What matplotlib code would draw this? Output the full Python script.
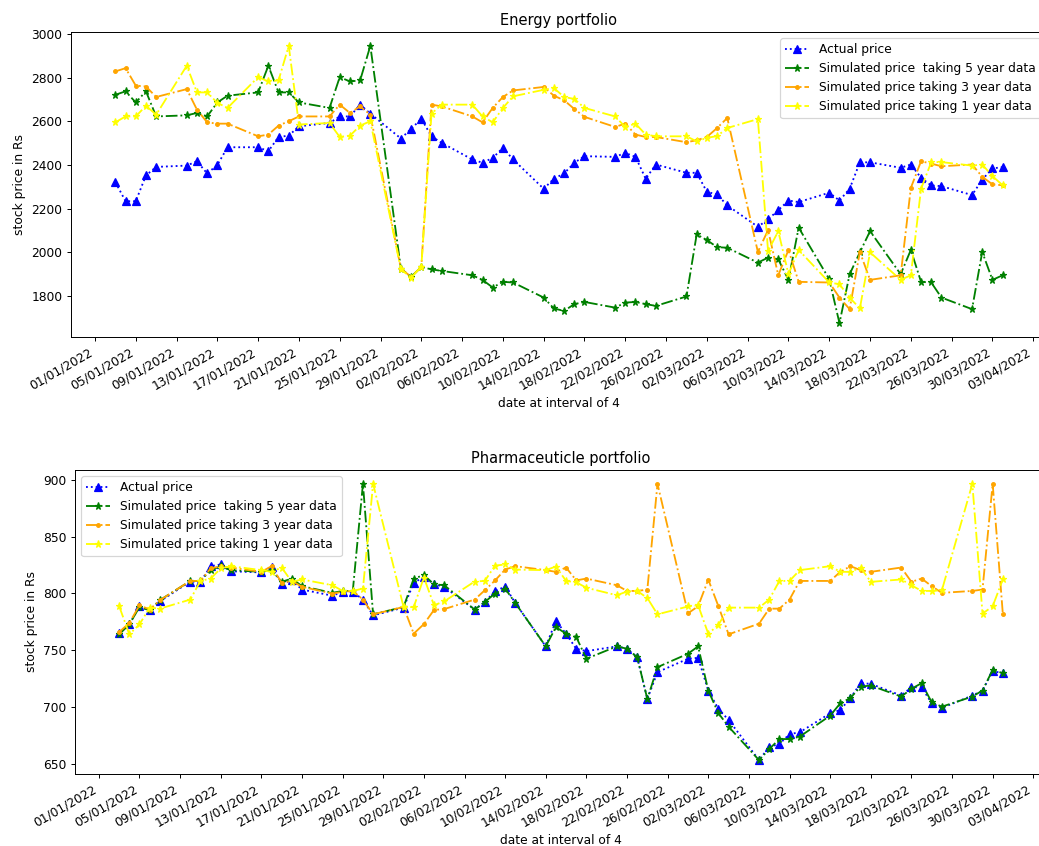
import numpy as np
import pandas as pd
import matplotlib
matplotlib.use('Agg')
import matplotlib.pyplot as plt
import matplotlib.dates as mdates
from matplotlib.ticker import FixedLocator

# trading days covered by the simulation (weekdays, 03/01/2022 - 31/03/2022)
dates = pd.bdate_range('2022-01-03', '2022-03-31')
tick_days = pd.date_range('2022-01-01', '2022-04-03', freq='4D')

# ---- Energy portfolio ----
energy_actual = [2321, 2234, 2234, 2352, 2391, 2397, 2417, 2361, 2400, 2481,
                 2481, 2463, 2528, 2534, 2577, 2592, 2622, 2622, 2676, 2635,
                 2521, 2565, 2611, 2531, 2501, 2425, 2410, 2432, 2478, 2425,
                 2291, 2337, 2361, 2410, 2440, 2437, 2455, 2437, 2337, 2402,
                 2364, 2364, 2277, 2265, 2215, 2117, 2151, 2193, 2237, 2230,
                 2273, 2237, 2291, 2412, 2412, 2387, 2402, 2341, 2306, 2303,
                 2262, 2333, 2384, 2390]
energy_5yr = [2721, 2737, 2686, 2737, 2622, 2627, 2638, 2622, 2686, 2717,
              2732, 2854, 2732, 2732, 2686, 2661, 2802, 2782, 2787, 2945,
              1925, 1888, 1933, 1922, 1915, 1895, 1874, 1839, 1865, 1862,
              1793, 1743, 1732, 1763, 1773, 1747, 1770, 1773, 1763, 1755,
              1798, 2082, 2056, 2024, 2021, 1953, 1976, 1968, 1874, 2113,
              1877, 1676, 1900, 2000, 2097, 1900, 2011, 1865, 1862, 1793,
              1740, 2002, 1874, 1895]
energy_3yr = [2828, 2843, 2763, 2759, 2711, 2747, 2653, 2595, 2589, 2589,
              2531, 2539, 2580, 2600, 2622, 2622, 2676, 2638, 2668, 2630,
              1925, 1888, 1933, 2676, 2668, 2622, 2595, 2661, 2711, 2741,
              2757, 2717, 2696, 2656, 2620, 2574, 2589, 2539, 2528, 2528,
              2504, 2513, 2528, 2569, 2615, 2002, 2102, 1895, 2011, 1865,
              1862, 1793, 1740, 2002, 1874, 1895, 2295, 2417, 2406, 2394,
              2402, 2346, 2311, 2307]
energy_1yr = [2595, 2622, 2622, 2671, 2630, 2854, 2732, 2732, 2684, 2661,
              2802, 2782, 2787, 2945, 2585, 2592, 2528, 2534, 2580, 2600,
              1922, 1884, 1935, 2635, 2676, 2676, 2622, 2595, 2661, 2714,
              2744, 2752, 2711, 2702, 2661, 2622, 2574, 2589, 2539, 2531,
              2531, 2508, 2524, 2532, 2569, 2610, 2006, 2097, 1900, 2011,
              1862, 1854, 1793, 1743, 2000, 1874, 1895, 2291, 2413, 2413,
              2397, 2402, 2349, 2307]

# ---- Pharmaceuticle portfolio ----
pharma_actual = [765, 773, 788.5, 785, 793, 810.5, 810, 824, 825.5, 819.5,
                 818.5, 823.5, 808.5, 811.5, 803.4, 798, 801.4, 801.4, 794.6, 780.7,
                 787.5, 809.3, 814.6, 808.1, 805.8, 785.8, 792.5, 802, 806, 791.6,
                 753.4, 775.7, 764.5, 751.3, 749.2, 753.4, 751.3, 743.9, 707.1, 730.7,
                 742.5, 743.3, 714.5, 698.3, 688.6, 653.2, 665, 667.4, 676.2, 677.7,
                 694.5, 697.4, 708, 721, 720.4, 710.1, 717.4, 717.4, 703.3, 699.2,
                 710.1, 714.5, 731.6, 729.8]
pharma_5yr = [764, 772.8, 788.1, 785.2, 794, 811, 811, 820.5, 824, 820.5,
              819, 820.5, 810.2, 813.1, 806.4, 800.5, 802.2, 802.2, 896.5, 781.6,
              788.1, 813.1, 816.1, 808.1, 807.2, 785.8, 792.5, 799.9, 804.3, 791.6,
              753.4, 770.4, 764.5, 761.6, 742.5, 753.4, 751.3, 743.9, 707.1, 735.1,
              746.9, 753.4, 714.5, 694.5, 682.7, 653.2, 663, 671.8, 671.8, 673.9,
              692.4, 703.3, 708, 718, 718.9, 709.2, 716, 721, 704.2, 700.3,
              709.2, 714.5, 732.7, 729.8]
pharma_3yr = [766, 774, 789.6, 785.8, 794, 811, 811, 822, 824, 822.8,
              819, 824, 809.3, 811, 805.8, 799.9, 801.4, 802.2, 794.6, 781.6,
              788.1, 764.6, 773, 785.5, 786.2, 794.6, 802.8, 811.4, 821, 824,
              820.5, 819, 822.8, 811.5, 813.1, 807.2, 802.2, 802.2, 803.4, 896.5,
              782.5, 788.7, 812.2, 788.7, 764, 773.4, 786.6, 786.6, 794.6, 811,
              811, 819, 824, 820.5, 819, 822.8, 810.2, 813.1, 806.4, 800.5,
              802.2, 803.4, 896.5, 782.2]
pharma_1yr = [788.7, 764, 772.8, 787.5, 786.6, 794.6, 811, 813.1, 822, 824,
              820.5, 819, 822.8, 810.2, 812.3, 807.2, 802.2, 802.2, 804.3, 896.5,
              788, 788, 814, 789.6, 793, 810.5, 811, 824.5, 825.5, 821,
              820.5, 823.7, 811, 809.8, 805, 798.4, 801.7, 802.2, 796, 781.6,
              788.5, 789.6, 764.5, 772.4, 787.5, 787.5, 794.6, 811, 811, 820.5,
              824, 819, 819, 822.8, 810.2, 812.3, 807.2, 802.2, 802.2, 802.8,
              896.5, 782.2, 788.7, 812.3]

labels = ['Actual price', 'Simulated price  taking 5 year data',
          'Simulated price taking 3 year data', 'Simulated price taking 1 year data']


def plot_portfolio(ax, actual, sim5, sim3, sim1, title, legend_loc):
    ax.plot(dates, actual, color='blue', linestyle=':', marker='^', label=labels[0])
    ax.plot(dates, sim5, color='green', linestyle='-.', marker='*', label=labels[1])
    ax.plot(dates, sim3, color='orange', linestyle='-.', marker='.', label=labels[2])
    ax.plot(dates, sim1, color='yellow', linestyle='-.', marker='*', label=labels[3])
    ax.set_title(title)
    ax.set_xlabel('date at interval of 4')
    ax.set_ylabel('stock price in Rs')
    # one tick every 4 days starting 01/01
    ax.xaxis.set_major_locator(FixedLocator(mdates.date2num(tick_days)))
    ax.xaxis.set_major_formatter(mdates.DateFormatter('%d/%m/%Y'))
    for lbl in ax.get_xticklabels():
        lbl.set_rotation(30)
        lbl.set_horizontalalignment('right')
    ax.legend(loc=legend_loc)


dpi = 88
fig = plt.figure(figsize=(1039 / dpi, 846 / dpi), dpi=dpi)
ax1 = fig.add_axes([71 / 1039, 1 - 337 / 846, 976 / 1039, 305 / 846])
ax2 = fig.add_axes([75 / 1039, 1 - 774 / 846, 972 / 1039, 304 / 846])

plot_portfolio(ax1, energy_actual, energy_5yr, energy_3yr, energy_1yr,
               'Energy portfolio', 'upper right')
plot_portfolio(ax2, pharma_actual, pharma_5yr, pharma_3yr, pharma_1yr,
               'Pharmaceuticle portfolio', 'upper left')

fig.savefig('out.png', dpi=dpi)
